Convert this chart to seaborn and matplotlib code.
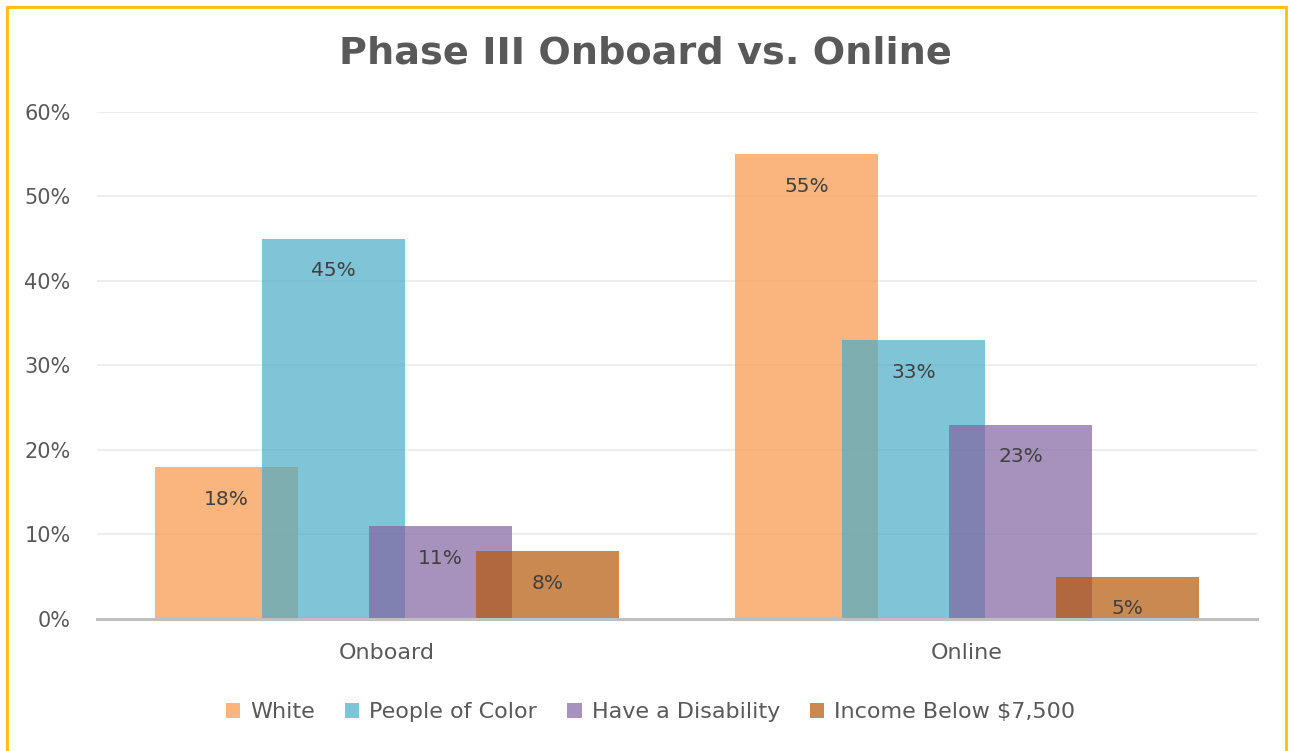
import matplotlib
matplotlib.use("Agg")
import matplotlib.pyplot as plt
import matplotlib.patches as mpatches
import matplotlib.ticker as mticker
import pandas as pd
import seaborn as sns

modes = ["Onboard", "Online"]
groups = ["White", "People of Color", "Have a Disability", "Income Below $7,500"]
onboard = [0.18, 0.45, 0.11, 0.08]
online = [0.55, 0.33, 0.23, 0.05]
colors = ["#F79646", "#4BACC6", "#8064A2", "#B65708"]

df = pd.DataFrame({
    "mode": [m for m in modes for _ in groups],
    "group": groups * 2,
    "value": onboard + online,
})

sns.set_theme(style="white")
plt.rcParams["font.family"] = ["DejaVu Sans"]
txt = "#595959"

fig = plt.figure(figsize=(12.91, 7.51), dpi=100)
ax = fig.add_axes([0.0751, 0.1758, 0.8986, 0.6751])

sns.barplot(data=df, x="mode", y="value", hue="group", order=modes, hue_order=groups,
            palette=colors, saturation=1, width=0.738, alpha=0.7, linewidth=0,
            ax=ax, legend=False)

# widen bars so neighbours overlap, like the excel chart
bw = 0.246
for p in ax.patches:
    c = p.get_x() + p.get_width() / 2
    p.set_x(c - bw / 2)
    p.set_width(bw)

for cont in ax.containers:
    ax.bar_label(cont, labels=[f"{v * 100:.0f}%" for v in cont.datavalues],
                 padding=-30, fontsize=14.5, color="#404040")

ax.set_xlim(-0.5, 1.5)
ax.set_ylim(0, 0.6)
ax.yaxis.set_major_locator(mticker.MultipleLocator(0.1))
ax.yaxis.set_major_formatter(mticker.PercentFormatter(1.0, decimals=0))
ax.grid(axis="y", color="#EBEBEB", linewidth=1.2)
ax.set_axisbelow(True)
for s in ["top", "right", "left"]:
    ax.spines[s].set_visible(False)
ax.spines["bottom"].set_color("#BFBFBF")
ax.spines["bottom"].set_linewidth(2.2)
ax.tick_params(axis="y", length=0, pad=19, labelsize=15, labelcolor=txt)
ax.tick_params(axis="x", length=0, pad=17, labelsize=16, labelcolor=txt)
ax.set_xlabel("")
ax.set_ylabel("")

handles = [mpatches.Patch(color=c, alpha=0.7, linewidth=0) for c in colors]
ax.legend(handles, groups, loc="center", bbox_to_anchor=(0.504, 39 / 751),
          bbox_transform=fig.transFigure, ncol=4, frameon=False, fontsize=16,
          labelcolor=txt, handlelength=0.65, handleheight=0.65, handletextpad=0.45,
          columnspacing=1.35)

fig.text(0.5, 1 - 54 / 751, "Phase III Onboard vs. Online", ha="center", va="center",
         fontsize=27.5, fontweight="bold", color=txt)

fig.patches.append(mpatches.Rectangle((7 / 1291, -0.02), 1279 / 1291, 1.02 - 7 / 751,
                                      transform=fig.transFigure, fill=False,
                                      edgecolor="#FFC000", linewidth=2))

fig.savefig("out.png", dpi=100, facecolor="white")
